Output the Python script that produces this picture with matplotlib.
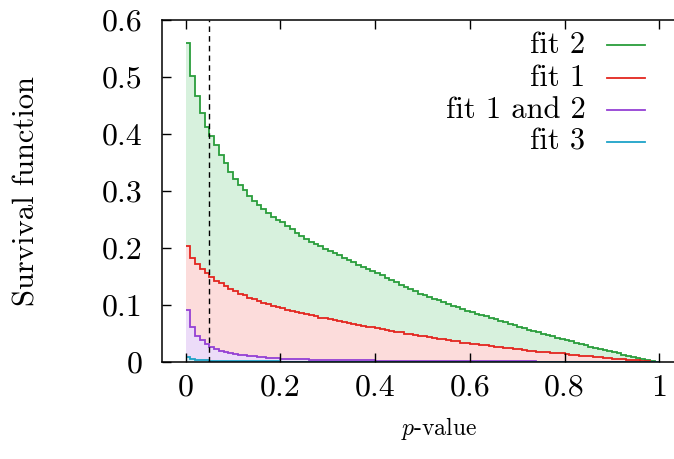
import numpy as np
import matplotlib
matplotlib.use("Agg")
import matplotlib.pyplot as plt

plt.rcParams['font.family'] = ['cmr10', 'DejaVu Serif']
plt.rcParams['mathtext.fontset'] = 'cm'
plt.rcParams['axes.formatter.use_mathtext'] = True

# bin edges of the p-value histogram (width 0.01)
edges = np.linspace(0.0, 1.0, 101)

fit2 = [0.560, 0.502, 0.466, 0.437, 0.413, 0.396, 0.380, 0.363, 0.349, 0.334,
        0.321, 0.311, 0.301, 0.291, 0.283, 0.275, 0.268, 0.261, 0.255, 0.250,
        0.245, 0.239, 0.233, 0.227, 0.221, 0.216, 0.211, 0.207, 0.203, 0.199,
        0.195, 0.191, 0.187, 0.183, 0.179, 0.175, 0.171, 0.167, 0.163, 0.160,
        0.156, 0.152, 0.148, 0.144, 0.140, 0.136, 0.132, 0.128, 0.124, 0.120,
        0.117, 0.114, 0.111, 0.108, 0.105, 0.102, 0.099, 0.096, 0.093, 0.090,
        0.088, 0.085, 0.083, 0.080, 0.078, 0.075, 0.072, 0.070, 0.067, 0.065,
        0.062, 0.060, 0.057, 0.055, 0.052, 0.050, 0.048, 0.045, 0.043, 0.040,
        0.038, 0.036, 0.034, 0.031, 0.029, 0.027, 0.025, 0.023, 0.021, 0.019,
        0.017, 0.015, 0.013, 0.011, 0.009, 0.007, 0.005, 0.003, 0.001, 0.000]

fit1 = [0.204, 0.182, 0.172, 0.164, 0.156, 0.149, 0.143, 0.138, 0.133, 0.128,
        0.124, 0.120, 0.117, 0.113, 0.110, 0.107, 0.104, 0.101, 0.099, 0.096,
        0.094, 0.092, 0.090, 0.088, 0.086, 0.084, 0.082, 0.080, 0.078, 0.077,
        0.075, 0.073, 0.072, 0.070, 0.068, 0.067, 0.065, 0.064, 0.062, 0.061,
        0.059, 0.058, 0.056, 0.055, 0.053, 0.052, 0.050, 0.049, 0.048, 0.046,
        0.045, 0.044, 0.042, 0.041, 0.040, 0.038, 0.037, 0.036, 0.034, 0.033,
        0.032, 0.031, 0.030, 0.029, 0.028, 0.027, 0.026, 0.025, 0.024, 0.023,
        0.022, 0.021, 0.020, 0.019, 0.018, 0.018, 0.017, 0.016, 0.015, 0.015,
        0.014, 0.013, 0.012, 0.011, 0.011, 0.010, 0.009, 0.008, 0.007, 0.007,
        0.006, 0.005, 0.005, 0.004, 0.003, 0.003, 0.002, 0.001, 0.000, 0.000]

fit12 = [0.091, 0.062, 0.046, 0.038, 0.032, 0.026, 0.023, 0.020, 0.018, 0.016,
         0.014, 0.013, 0.012, 0.011, 0.010, 0.009, 0.008, 0.0075, 0.007, 0.0065,
         0.006, 0.0055, 0.005, 0.005, 0.0045, 0.0045, 0.004, 0.004, 0.004, 0.0035,
         0.0035, 0.003, 0.003, 0.003, 0.003, 0.003, 0.0028, 0.0028, 0.0028, 0.0028,
         0.0025, 0.0025, 0.0025, 0.0025, 0.0025, 0.0022, 0.0022, 0.0022, 0.0022, 0.002,
         0.002, 0.002, 0.002, 0.002, 0.002, 0.0018, 0.0018, 0.0018, 0.0018, 0.0015,
         0.0015, 0.0015, 0.0015, 0.0015, 0.0012, 0.0012, 0.0012, 0.0012, 0.001, 0.001,
         0.001, 0.001, 0.001, 0.001, 0.0008, 0.0008, 0.0008, 0.0008, 0.0006, 0.0006,
         0.0006, 0.0005, 0.0005, 0.0005, 0.0004, 0.0004, 0.0003, 0.0003, 0.0003, 0.0002,
         0.0002, 0.0002, 0.0001, 0.0001, 0.0001, 0.0, 0.0, 0.0, 0.0, 0.0]

fit3 = [0.008, 0.005, 0.004, 0.003, 0.003, 0.0025, 0.002, 0.002, 0.002, 0.0018,
        0.0016, 0.0015, 0.0014, 0.0013, 0.0012, 0.0012, 0.0011, 0.001, 0.001, 0.001,
        0.0009, 0.0009, 0.0009, 0.0008, 0.0008, 0.0008, 0.0007, 0.0007, 0.0007, 0.0006,
        0.0006, 0.0006, 0.0006, 0.0005, 0.0005, 0.0005, 0.0005, 0.0005, 0.0004, 0.0004,
        0.0004, 0.0004, 0.0004, 0.0003, 0.0003, 0.0003, 0.0003, 0.0003, 0.0003, 0.0003,
        0.0002, 0.0002, 0.0002, 0.0002, 0.0002, 0.0002, 0.0002, 0.0002, 0.0002, 0.0002,
        0.0001, 0.0001, 0.0001, 0.0001, 0.0001, 0.0001, 0.0001, 0.0001, 0.0001, 0.0001,
        0.0001, 0.0001, 0.0001, 0.0001, 0.0001, 0.0, 0.0, 0.0, 0.0, 0.0,
        0.0, 0.0, 0.0, 0.0, 0.0, 0.0, 0.0, 0.0, 0.0, 0.0,
        0.0, 0.0, 0.0, 0.0, 0.0, 0.0, 0.0, 0.0, 0.0, 0.0]

p_cut = 0.05

series = [("fit 2", fit2, "#2a9d3c", "#d7f1dd"),
          ("fit 1", fit1, "#e3261f", "#fcdcdb"),
          ("fit 1 and 2", fit12, "#9440d4", "#ecdcf8"),
          ("fit 3", fit3, "#1ea3c8", "#d4eef6")]

fig = plt.figure(figsize=(6.74, 4.59), dpi=100)
ax = fig.add_axes([0.2404, 0.2113, 0.773, 0.745])

for name, vals, lc, fc in series:
    ax.stairs(vals, edges, baseline=0, fill=True, color=fc, lw=0)
for name, vals, lc, fc in series:
    ax.stairs(vals, edges, baseline=None, color=lc, lw=1.3)

ax.axvline(p_cut, color='black', ls=(0, (4, 3)), lw=1.0)

ax.set_xlim(-0.05, 1.05)
ax.set_ylim(0, 0.6)
ax.set_xticks([0, 0.2, 0.4, 0.6, 0.8, 1.0])
ax.set_xticklabels(["0", "0.2", "0.4", "0.6", "0.8", "1"])
ax.set_yticks([0, 0.1, 0.2, 0.3, 0.4, 0.5, 0.6])
ax.set_yticklabels(["0", "0.1", "0.2", "0.3", "0.4", "0.5", "0.6"])
ax.tick_params(direction='in', length=6.5, width=1.0, top=True, right=False,
               labelsize=23)
ax.tick_params(axis='x', pad=9)
ax.tick_params(axis='y', pad=14)
for s in ax.spines.values():
    s.set_linewidth(1.1)
ax.spines['right'].set_visible(False)

ax.set_ylabel("Survival function", fontsize=22)
ax.yaxis.set_label_coords(-0.26, 0.5)
ax.set_xlabel("$p$-value", fontsize=17)
ax.xaxis.set_label_coords(0.532, -0.193)
ax.xaxis.label.set_va('center')
ax.yaxis.label.set_va('center')

# key, gnuplot style: text right aligned, sample line after it
ys = [0.927, 0.830, 0.737, 0.643]
for (name, vals, lc, fc), yk in zip(series, ys):
    ax.text(0.813, yk, name, transform=ax.transAxes, ha='right', va='center',
            fontsize=22)
    ax.plot([0.854, 0.927], [yk, yk], transform=ax.transAxes, color=lc, lw=1.3)

plt.savefig("out.png", dpi=100)
